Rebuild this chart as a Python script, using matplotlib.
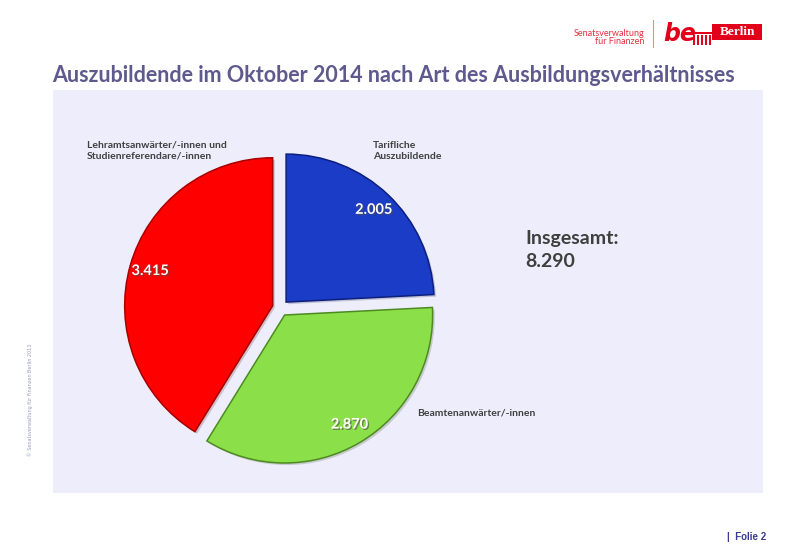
import matplotlib.pyplot as plt
import matplotlib.patheffects as pe
from matplotlib.patches import Rectangle

# data
categories = ["Tarifliche\nAuszubildende", "Beamtenanwärter/-innen",
              "Lehramtsanwärter/-innen und\nStudienreferendare/-innen"]
values = [2005, 2870, 3415]
colors = ["#1B3CC6", "#8BDF48", "#FE0000"]
edges = ["#0B1F7E", "#4E8A22", "#A80000"]
total = sum(values)

def de(v):
    return f"{v:,}".replace(",", ".")

W, H = 800, 558
fig = plt.figure(figsize=(8, 5.58), dpi=100)
fig.patch.set_facecolor("white")

def px(x, y):
    return x / W, 1 - y / H

# light panel behind the chart
x0, y0 = px(53, 493)
fig.patches.append(Rectangle((x0, y0), (763 - 53) / W, (493 - 90) / H,
                             transform=fig.transFigure, facecolor="#EEEDFB",
                             edgecolor="none", zorder=-5))

# pie axes: centre (280.5, 308) px, radius 148 px
R = 148
cx, cy = 280.5, 308
span = 2.2 * R
ax = fig.add_axes([(cx - span / 2) / W, (H - cy - span / 2) / H, span / W, span / H])
ax.set_facecolor("none")
ax.set_zorder(2)
wedges, _, autotexts = ax.pie(values, colors=colors, startangle=90, counterclock=False,
                              explode=[0.055] * 3, autopct="%1.0f", pctdistance=0.86,
                              wedgeprops=dict(linewidth=1.1))
for w, ec in zip(wedges, edges):
    w.set_edgecolor(ec)
    w.set_path_effects([pe.SimplePatchShadow(offset=(1.5, -1.5), alpha=0.2), pe.Normal()])
for t, v in zip(autotexts, values):
    t.set_text(de(v))
    t.set_color("white")
    t.set_fontsize(10.5)
    t.set_fontweight("bold")
    t.set_family("Lato")
    t.set_path_effects([pe.withSimplePatchShadow(offset=(1, -1), alpha=0.6)])
ax.set_xlim(-1.1, 1.1)
ax.set_ylim(-1.1, 1.1)
ax.set_aspect("equal")
ax.axis("off")

lab = dict(fontsize=7.5, fontweight="bold", color="#404040", family="Lato",
           va="top", ha="left", linespacing=1.25)
fig.text(*px(373, 141), categories[0], **lab)
fig.text(*px(417, 409), categories[1], **lab)
fig.text(*px(87, 141), categories[2], **lab)

fig.text(*px(525, 230), "Insgesamt:\n" + de(total), fontsize=14, fontweight="bold",
         color="#3F3F3F", family="Lato", va="top", ha="left", linespacing=1.45)

# title
fig.text(*px(52, 76), "Auszubildende im Oktober 2014 nach Art des Ausbildungsverhältnisses",
         fontsize=15.5, fontweight="bold", color="#5E5A8E", family="Lato", va="center")

# logo
fig.text(*px(644, 33), "Senatsverwaltung", fontsize=6.5, color="#E2323F",
         family="Lato", ha="right", va="center")
fig.text(*px(644, 42), "für Finanzen", fontsize=6.5, color="#E2323F",
         family="Lato", ha="right", va="center")
fig.add_artist(plt.Line2D([653 / W, 653 / W], [1 - 20 / H, 1 - 47 / H],
                          color="#E88A90", lw=0.8, transform=fig.transFigure))
fig.text(*px(663, 34), "be", fontsize=17, fontweight="bold", fontstyle="italic",
         color="#E3001B", family="DejaVu Sans", ha="left", va="center")
gx, gy = px(692, 34)
fig.patches.append(Rectangle((gx, gy), 20 / W, 2 / H, transform=fig.transFigure,
                             facecolor="#E3001B", edgecolor="none"))
for i in range(5):
    cxp, cyp = px(693 + i * 4, 45)
    fig.patches.append(Rectangle((cxp, cyp), 2 / W, 10 / H, transform=fig.transFigure,
                                 facecolor="#E3001B", edgecolor="none"))
bx, by = px(712, 40)
fig.patches.append(Rectangle((bx, by), 50 / W, 16 / H, transform=fig.transFigure,
                             facecolor="#E3001B", edgecolor="none"))
fig.text(*px(737, 32), "Berlin", fontsize=9.5, color="white", family="Liberation Serif",
         fontweight="bold", ha="center", va="center")

# footer and side note
fig.text(*px(727, 537), "|  Folie 2", fontsize=7, fontweight="bold", color="#3C3C8C",
         family="Liberation Sans", va="center")
fig.text(*px(30, 400), "© Senatsverwaltung für Finanzen Berlin 2013", fontsize=3.5,
         color="#9A9AC0", rotation=90, ha="center", va="center")

fig.savefig("out.png", dpi=100)
